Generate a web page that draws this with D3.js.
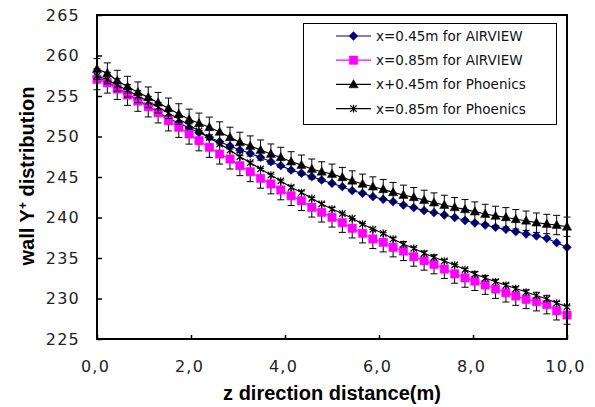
<!DOCTYPE html>
<html><head><meta charset="utf-8">
<script src="https://cdn.jsdelivr.net/npm/d3@7"></script>
<style>html,body{margin:0;padding:0;background:#fff}svg{display:block}</style>
</head><body><svg id="c" width="595" height="407"></svg>
<script>
const zDist = [0, 0.22, 0.43, 0.65, 0.87, 1.09, 1.30, 1.52, 1.74, 1.96, 2.17, 2.39, 2.61, 2.83, 3.04, 3.26, 3.48, 3.70, 3.91, 4.13, 4.35, 4.57, 4.78, 5.00, 5.22, 5.43, 5.65, 5.87, 6.09, 6.30, 6.52, 6.74, 6.96, 7.17, 7.39, 7.61, 7.83, 8.04, 8.26, 8.48, 8.70, 8.91, 9.13, 9.35, 9.57, 9.78, 10.0];
const airview045 = [257.35, 256.73, 255.99, 255.25, 254.51, 253.77, 253.02, 252.22, 251.67, 251.05, 250.47, 249.90, 249.36, 248.83, 248.33, 247.93, 247.43, 246.89, 246.40, 245.86, 245.46, 245.04, 244.63, 244.22, 243.80, 243.31, 242.99, 242.57, 242.25, 241.95, 241.54, 241.21, 240.84, 240.59, 240.31, 240.00, 239.63, 239.32, 239.07, 238.79, 238.54, 238.25, 237.96, 237.72, 237.43, 236.89, 236.32];
const airview085 = [257.06, 256.64, 255.86, 255.12, 254.38, 253.68, 252.94, 251.95, 251.14, 250.31, 249.48, 248.67, 247.84, 247.22, 246.40, 245.65, 244.84, 244.14, 243.40, 242.69, 242.07, 241.26, 240.64, 240.02, 239.36, 238.67, 238.05, 237.35, 236.94, 236.32, 235.86, 235.16, 234.67, 234.22, 233.64, 233.05, 232.55, 232.15, 231.67, 231.17, 230.72, 230.31, 229.90, 229.62, 229.25, 228.49, 227.96];
const phoenics045 = [258.33, 257.80, 256.89, 256.15, 255.46, 254.84, 254.17, 253.48, 252.78, 252.12, 251.63, 251.14, 250.56, 249.90, 249.28, 248.83, 248.33, 247.84, 247.43, 246.89, 246.48, 245.99, 245.65, 245.37, 244.96, 244.54, 244.14, 243.80, 243.48, 243.11, 242.78, 242.49, 242.16, 241.83, 241.54, 241.26, 241.01, 240.72, 240.43, 240.19, 240.02, 239.78, 239.60, 239.36, 239.20, 239.07, 238.86];
const phoenics085 = [257.47, 257.04, 256.36, 255.68, 255.00, 254.32, 253.64, 252.90, 252.16, 251.42, 250.68, 249.88, 249.07, 248.33, 247.51, 246.77, 245.99, 245.25, 244.51, 243.73, 243.09, 242.37, 241.67, 241.05, 240.49, 239.90, 239.20, 238.54, 238.05, 237.35, 236.69, 236.20, 235.58, 235.09, 234.63, 234.14, 233.58, 233.02, 232.53, 232.07, 231.64, 231.23, 230.80, 230.37, 229.94, 229.44, 228.99];
const seriesNames = ["x=0.45m for AIRVIEW", "x=0.85m for AIRVIEW", "x+0.45m for Phoenics", "x=0.85m for Phoenics"];
const xTicks = [0, 2, 4, 6, 8, 10];
const yTicks = [225, 230, 235, 240, 245, 250, 255, 260, 265];
const errorPercent = 0.5; // percentage error bars
const xTitle = "z direction distance(m)";

const svg = d3.select("#c");
const L = 97, R = 567, T = 15, B = 339;
const x = d3.scaleLinear().domain([0, 10]).range([L, R]);
const y = d3.scaleLinear().domain([225, 265]).range([B, T]);

const markers = {
  diamond: "M0,-4.4L4.4,0L0,4.4L-4.4,0Z",
  square: "M-4.2,-4.2H4.2V4.2H-4.2Z",
  triangle: "M0,-4.8L4.6,3.4L-4.6,3.4Z",
  star: "M-3.2,-3.2L3.2,3.2M-3.2,3.2L3.2,-3.2M0,-3.8V3.8"
};
const series = [
  {name: seriesNames[0], vals: airview045, color: "#000080", marker: "diamond", err: false},
  {name: seriesNames[1], vals: airview085, color: "#FF00FF", marker: "square", err: true},
  {name: seriesNames[2], vals: phoenics045, color: "#000000", marker: "triangle", err: true},
  {name: seriesNames[3], vals: phoenics085, color: "#000000", marker: "star", err: false}
];

// axes
const yAxis = d3.axisLeft(y).tickValues(yTicks).tickSizeInner(-5).tickSizeOuter(0).tickPadding(17).tickFormat(d3.format("d"));
const xAxis = d3.axisBottom(x).tickValues(xTicks).tickSizeInner(-4).tickSizeOuter(0).tickPadding(22).tickFormat(d => d.toFixed(1).replace(".", ","));
const gy = svg.append("g").attr("transform", `translate(${L},0)`).call(yAxis);
const gx = svg.append("g").attr("transform", `translate(0,${B})`).call(xAxis);
[gx, gy].forEach(g => {
  g.select(".domain").remove();
  g.selectAll(".tick line").attr("stroke", "#000").attr("stroke-width", 1.5);
  g.selectAll("text").attr("fill", "#222").style("font-family", "DejaVu Sans").style("font-size", "16px").style("letter-spacing", "1.2px");
});
gx.selectAll("text").attr("dx", "-2");

// series
const line = d3.line().x(d => x(d[0])).y(d => y(d[1]));
series.forEach(s => {
  const pts = zDist.map((z, i) => [z, s.vals[i]]);
  const g = svg.append("g");
  g.append("path").attr("d", line(pts)).attr("fill", "none").attr("stroke", s.color).attr("stroke-width", 1.2);
  if (s.err) {
    const eg = g.append("g").attr("stroke", "#000").attr("stroke-width", 1).attr("fill", "none");
    pts.forEach(p => {
      const e = p[1] * errorPercent / 100;
      const px = x(p[0]), y1 = y(p[1] + e), y2 = y(p[1] - e);
      eg.append("path").attr("d", `M${px},${y1}V${y2}M${px-3.5},${y1}H${px+3.5}M${px-3.5},${y2}H${px+3.5}`);
    });
  }
  g.selectAll("path.m").data(pts).join("path").attr("class", "m")
    .attr("transform", d => `translate(${x(d[0])},${y(d[1])})`)
    .attr("d", markers[s.marker])
    .attr("fill", s.marker === "star" ? "none" : s.color)
    .attr("stroke", s.color).attr("stroke-width", s.marker === "star" ? 1.2 : 0.5);
});

// frame
svg.append("rect").attr("x", L).attr("y", T).attr("width", R - L).attr("height", B - T)
  .attr("fill", "none").attr("stroke", "#000").attr("stroke-width", 2);

// axis titles
svg.append("text").attr("x", 332).attr("y", 400).attr("text-anchor", "middle")
  .style("font-family", "Liberation Sans").style("font-weight", "bold").style("font-size", "20px").text(xTitle);
const yt = svg.append("text").attr("transform", "translate(34,176) rotate(-90)").attr("text-anchor", "middle")
  .style("font-family", "Liberation Sans").style("font-weight", "bold").style("font-size", "20px");
yt.append("tspan").text("wall Y");
yt.append("tspan").attr("dy", -7).style("font-size", "12px").text("+");
yt.append("tspan").attr("dy", 7).text(" distribution");

// legend
const lg = svg.append("g");
lg.append("rect").attr("x", 303.5).attr("y", 23.5).attr("width", 253).attr("height", 101)
  .attr("fill", "#fff").attr("stroke", "#000").attr("stroke-width", 1);
series.forEach((s, i) => {
  const cy = 36 + i * 24.2;
  lg.append("line").attr("x1", 336).attr("x2", 371).attr("y1", cy).attr("y2", cy).attr("stroke", s.color).attr("stroke-width", 1.2);
  lg.append("path").attr("transform", `translate(353.5,${cy})`).attr("d", markers[s.marker])
    .attr("fill", s.marker === "star" ? "none" : s.color).attr("stroke", s.color).attr("stroke-width", s.marker === "star" ? 1.2 : 0.5);
  lg.append("text").attr("x", 376).attr("y", cy + 5).style("font-family", "DejaVu Sans").style("font-size", "13.5px").attr("fill", "#111").text(s.name);
});
</script></body></html>
